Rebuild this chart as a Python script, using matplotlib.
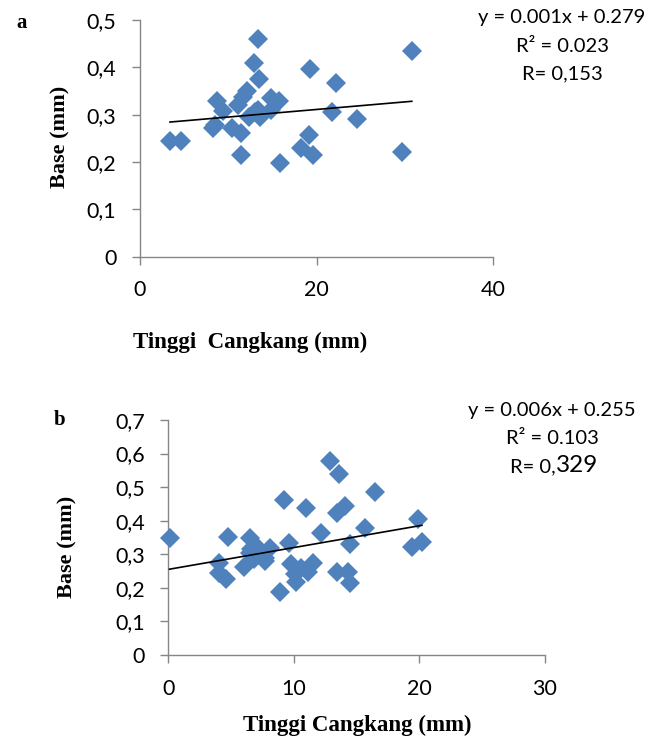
import numpy as np
import matplotlib
import matplotlib.pyplot as plt

matplotlib.use("Agg")

# panel a: Tinggi Cangkang vs Base
X_A = [3.4, 4.7, 8.3, 8.5, 8.7, 9.4, 10.4, 11.1, 11.5, 11.5, 11.7, 12.1,
       12.3, 12.95, 13.4, 13.5, 13.0, 13.6, 14.9, 14.9, 15.7, 15.9, 18.3,
       19.1, 19.25, 19.6, 21.8, 22.2, 24.6, 29.7, 30.8, 13.4]
Y_A = [0.245, 0.245, 0.271, 0.278, 0.328, 0.307, 0.271, 0.321, 0.261, 0.215,
       0.338, 0.349, 0.296, 0.409, 0.460, 0.375, 0.306, 0.296, 0.335, 0.310,
       0.328, 0.197, 0.229, 0.257, 0.396, 0.215, 0.306, 0.366, 0.291, 0.222,
       0.435, 0.310]
TREND_A = [0.0016, 0.279]
EQ_A = ["y = 0.001x + 0.279", "R² = 0.023", "R= 0,153"]

# panel b
X_B = [0.1, 4.0, 4.0, 4.6, 4.75, 6.0, 6.5, 6.6, 6.8, 7.1, 7.7, 8.1, 8.9,
       9.2, 9.6, 9.8, 10.1, 10.2, 10.6, 11.0, 11.1, 11.5, 12.2, 12.9, 13.4,
       13.4, 13.6, 14.1, 14.3, 14.5, 14.5, 15.65, 16.45, 19.4, 19.9, 20.2,
       6.5, 7.7]
Y_B = [0.348, 0.273, 0.243, 0.225, 0.352, 0.262, 0.348, 0.315, 0.285, 0.323,
       0.280, 0.320, 0.188, 0.462, 0.333, 0.270, 0.240, 0.216, 0.258, 0.437,
       0.248, 0.275, 0.363, 0.578, 0.248, 0.424, 0.538, 0.445, 0.248, 0.215,
       0.331, 0.377, 0.487, 0.322, 0.406, 0.337, 0.303, 0.288]
TREND_B = [0.0065, 0.255]
EQ_B = ["y = 0.006x + 0.255", "R² = 0.103"]
R_B = ["R= 0,", "329"]

W, H = 663, 743
BLUE = "#4F81BD"
GRAY = "#868686"
TICK_FONT = "Lato"
SERIF = "Liberation Serif"


def px(x, y):
    return x / W, 1 - y / H


def make_axes(fig, left, top, right, bottom):
    l, t = px(left, top)
    r, b = px(right, bottom)
    ax = fig.add_axes([l, b, r - l, t - b])
    for side in ["top", "right"]:
        ax.spines[side].set_visible(False)
    for side in ["left", "bottom"]:
        ax.spines[side].set_color(GRAY)
        ax.spines[side].set_linewidth(1.0)
    ax.tick_params(direction="out", length=6, width=1.0, color=GRAY,
                   labelsize=15.5, pad=11)
    return ax


def draw_panel(ax, xs, ys, trend, xmax, ymax, xstep):
    ax.plot(xs, ys, linestyle="none", marker="D", ms=9.8,
            color=BLUE, markeredgewidth=0, clip_on=False, zorder=3)
    lx = np.array([min(xs), max(xs)])
    ax.plot(lx, trend[0] * lx + trend[1], color="black", lw=1.2, zorder=4)
    ax.set_xlim(0, xmax)
    ax.set_ylim(0, ymax)
    ax.set_xticks(np.arange(0, xmax + 0.1, xstep))
    yt = np.round(np.arange(0, ymax + 0.001, 0.1), 1)
    ax.set_yticks(yt)
    ax.set_yticklabels(["0" if v == 0 else f"{v:.1f}".replace(".", ",") for v in yt],
                       fontfamily=TICK_FONT)
    ax.set_xticklabels([f"{int(v)}" for v in ax.get_xticks()],
                       fontfamily=TICK_FONT)


fig = plt.figure(figsize=(W / 100, H / 100), dpi=100)

ax_a = make_axes(fig, 140, 20, 493, 256.7)
draw_panel(ax_a, X_A, Y_A, TREND_A, 40, 0.5, 20)

ax_b = make_axes(fig, 168.3, 420, 545, 655)
draw_panel(ax_b, X_B, Y_B, TREND_B, 30, 0.7, 10)

# labels
fig.text(*px(22, 23), "a", fontfamily=SERIF, fontweight="bold", fontsize=15,
         ha="center", va="center")
fig.text(*px(60, 420), "b", fontfamily=SERIF, fontweight="bold", fontsize=15,
         ha="center", va="center")
fig.text(*px(60, 137), "Base (mm)", fontfamily=SERIF, fontweight="bold",
         fontsize=16, rotation=90, ha="center", va="center")
fig.text(*px(67, 547), "Base (mm)", fontfamily=SERIF, fontweight="bold",
         fontsize=16, rotation=90, ha="center", va="center")
fig.text(*px(250, 342), "Tinggi  Cangkang (mm)", fontfamily=SERIF,
         fontweight="bold", fontsize=16.5, ha="center", va="center")
fig.text(*px(357, 725), "Tinggi Cangkang (mm)", fontfamily=SERIF,
         fontweight="bold", fontsize=16.5, ha="center", va="center")

# trendline equations
for txt, yy in zip(EQ_A, [18, 46, 74]):
    fig.text(*px(562, yy), txt, fontfamily=TICK_FONT, fontsize=14.5,
             ha="center", va="center")
for txt, yy in zip(EQ_B, [411, 438]):
    fig.text(*px(552, yy), txt, fontfamily=TICK_FONT, fontsize=14.5,
             ha="center", va="center")
fig.text(*px(556, 472), R_B[0], fontfamily=TICK_FONT, fontsize=14.5,
         ha="right", va="baseline")
fig.text(*px(556, 472), R_B[1], fontfamily=TICK_FONT, fontsize=17.5,
         ha="left", va="baseline")

fig.savefig("out.png", dpi=100)
